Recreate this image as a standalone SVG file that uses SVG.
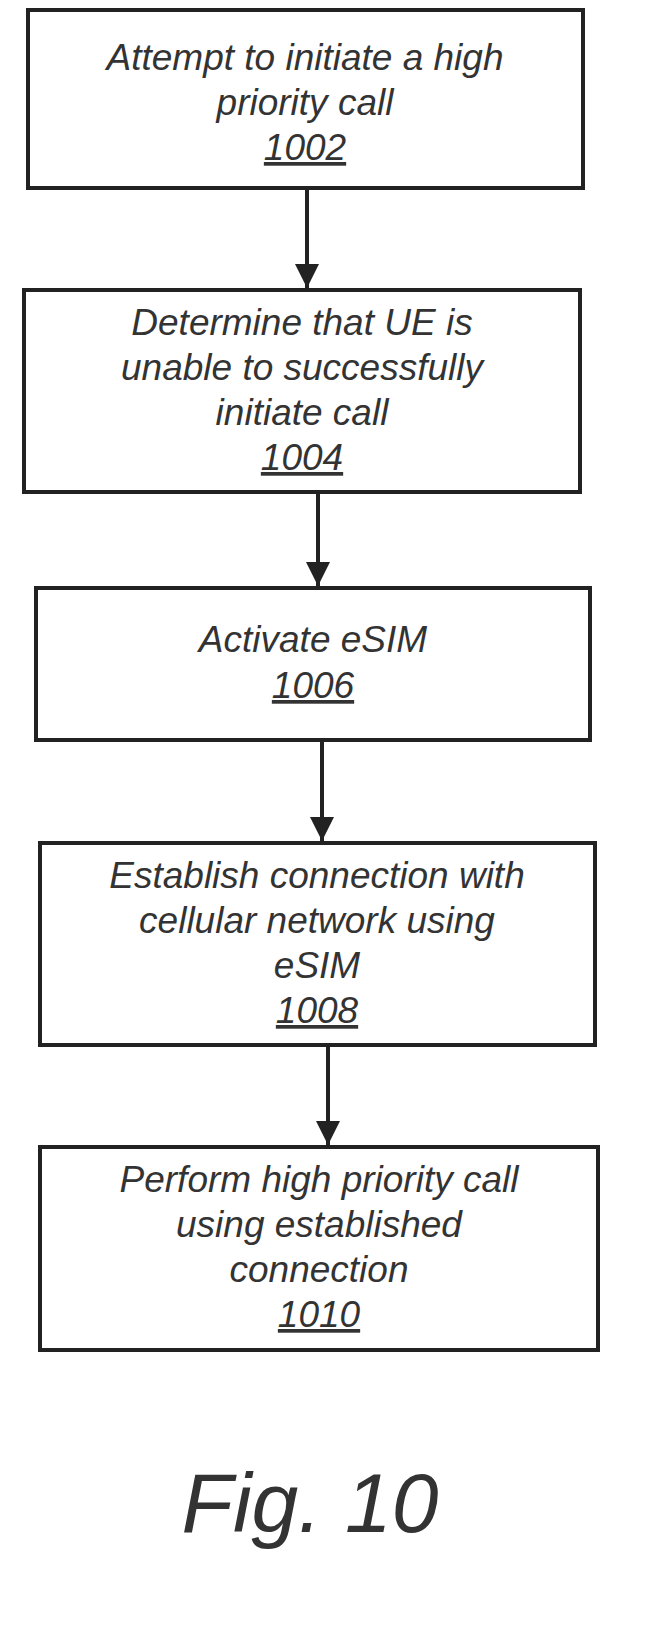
<svg xmlns="http://www.w3.org/2000/svg" width="648" height="1642" viewBox="0 0 648 1642">
<style>
.b{fill:#fff;stroke:#222;stroke-width:4}
.t{font-family:"Liberation Sans",Arial,sans-serif;font-style:italic;font-size:37px;fill:#333;text-anchor:middle}
.u{text-decoration:underline}
.c{stroke:#222;stroke-width:4;fill:none}
</style>
<defs><marker id="a" markerWidth="24" markerHeight="24" refX="24" refY="12" orient="auto" markerUnits="userSpaceOnUse" viewBox="0 0 24 24"><path d="M0,0L24,12L0,24z" fill="#222"/></marker></defs>
<rect width="648" height="1642" fill="#fff"/>
<g id="connectors">
<path class="c" d="M307,188V288" marker-end="url(#a)"/>
<path class="c" d="M318,492V586" marker-end="url(#a)"/>
<path class="c" d="M322,740V841" marker-end="url(#a)"/>
<path class="c" d="M328,1045V1145" marker-end="url(#a)"/>
</g>
<g id="n1002"><rect class="b" x="28" y="10" width="555" height="178"/>
<text class="t" x="305" y="70">Attempt to initiate a high</text><text class="t" x="305" y="115">priority call</text><text class="t u" x="305" y="160">1002</text></g>
<g id="n1004"><rect class="b" x="24" y="290" width="556" height="202"/>
<text class="t" x="302" y="335">Determine that UE is</text><text class="t" x="302" y="380">unable to successfully</text><text class="t" x="302" y="425">initiate call</text><text class="t u" x="302" y="470">1004</text></g>
<g id="n1006"><rect class="b" x="36" y="588" width="554" height="152"/>
<text class="t" x="313" y="652">Activate eSIM</text><text class="t u" x="313" y="698">1006</text></g>
<g id="n1008"><rect class="b" x="40" y="843" width="555" height="202"/>
<text class="t" x="317" y="888">Establish connection with</text><text class="t" x="317" y="933">cellular network using</text><text class="t" x="317" y="978">eSIM</text><text class="t u" x="317" y="1023">1008</text></g>
<g id="n1010"><rect class="b" x="40" y="1147" width="558" height="203"/>
<text class="t" x="319" y="1192">Perform high priority call</text><text class="t" x="319" y="1237">using established</text><text class="t" x="319" y="1282">connection</text><text class="t u" x="319" y="1327">1010</text></g>
<text class="t" x="310" y="1532" style="font-size:84px">Fig. 10</text>
</svg>
